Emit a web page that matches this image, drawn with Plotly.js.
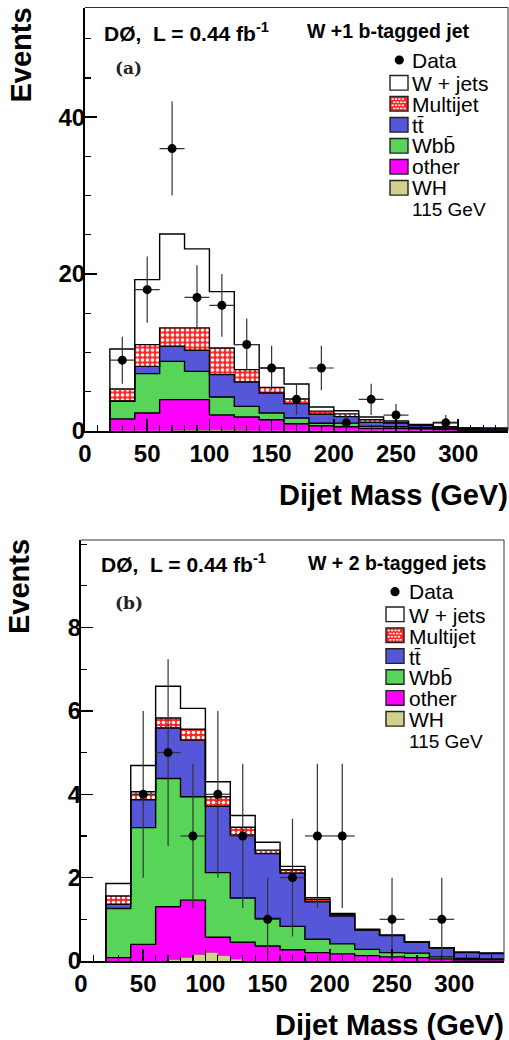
<!DOCTYPE html>
<html><head><meta charset="utf-8">
<script src="https://cdn.plot.ly/plotly-3.0.1.min.js"></script>
<style>html,body{margin:0;padding:0;background:#fff}#chart{width:509px;height:1040px}</style>
</head><body><div id="chart"></div>
<script>
// ---------------- DATA ----------------
const binEdges = [20,40,60,80,100,120,140,160,180,200,220,240,260,280,300,320,340];

// Panel (a): W + 1 b-tagged jet  (per-component contributions, stacked bottom->top)
const otherA = [1.49,2.26,3.96,3.96,2.0,1.75,1.4,0.89,0.64,0.5,0.3,0.3,0.25,0.15,0.05,0.04];
const wbbA   = [2.25,5.02,4.89,3.61,2.3,1.35,0.86,0.73,0.31,0.45,0.25,0.2,0.15,0.1,0.03,0.02];
const ttA    = [0.06,0.93,1.92,2.69,2.85,3.12,2.55,1.83,1.15,0.85,0.51,0.48,0.3,0.2,0.22,0.22];
const mjA    = [1.52,2.77,2.35,2.86,3.41,1.57,0.72,0.6,0.4,0.35,0.34,0.12,0.04,0.05,0.02,0.02];
const wjA    = [5.11,8.3,11.98,10.08,7.19,3.19,2.47,1.91,0.52,0.4,0.35,0.16,0.06,0.54,0.03,0.02];
const whXA   = [75,85,95,105,115,125];
const whA    = [0.02,0.05,0.08,0.1,0.06,0.02];
const dataXA = [30,50,70,90,110,130,150,170,190,210,230,250,290];
const dataYA = [9,18,36,17,16,11,8,4,8,1,4,2,1];
const dataEA = [3,4.24,6,4.12,4,3.32,2.83,2,2.83,1,2,1.41,1];

// Panel (b): W + 2 b-tagged jets
const otherB = [0.08,0.40,1.30,1.46,0.57,0.45,0.36,0.27,0.2,0.17,0.13,0.1,0.08,0.05,0.03,0.03];
const wbbB   = [1.18,2.8,3.08,2.48,1.55,1.06,0.66,0.56,0.32,0.24,0.15,0.1,0.11,0.05,0.03,0.02];
const ttB    = [0.1,0.67,1.21,1.36,1.59,1.51,1.56,1.28,0.9,0.67,0.46,0.41,0.26,0.21,0.14,0.13];
const mjB    = [0.2,0.19,0.24,0.26,0.23,0.19,0.08,0.08,0.06,0.04,0.01,0.01,0.01,0.01,0.01,0.01];
const wjB    = [0.3,0.63,0.76,0.5,0.36,0.28,0.19,0.08,0.04,0.02,0.01,0,0,0,0,0];
const whXB   = [75,85,95,105,115,125];
const whB    = [0.03,0.08,0.15,0.2,0.13,0.04];
const dataXB = [50,70,90,110,130,150,170,190,210,250,290];
const dataYB = [4,5,3,4,3,1,2,3,3,1,1];
const dataEB = [2,2.24,1.73,2,1.73,1,1.41,1.73,1.73,1,1];

const legendLabels = ['W + jets','Multijet','tt\u0304','Wbb\u0304','other','WH'];
const legendSub = '115 GeV';
const xTickLabels = ['0','50','100','150','200','250','300'];
const yTicksA = [0,20,40];
const yTicksB = [0,2,4,6,8];

// ---------------- STYLE ----------------
const C = {wj:'#ffffff', mj:'#ff2424', tt:'#5656d8', wbb:'#58d458', other:'#ff00ff', wh:'#d4cf8c'};
const SANS = 'Liberation Sans, Arial, Helvetica, sans-serif';
const W = 509, H = 1040;
const px = x => x / W, py = y => 1 - y / H;

const centers = binEdges.slice(0,-1).map((e,i)=> (e + binEdges[i+1]) / 2);
const widths  = binEdges.slice(0,-1).map((e,i)=> binEdges[i+1] - e);

function cumsum(list){
  const out = []; let acc = list[0].map(()=>0);
  list.forEach(a => { acc = acc.map((v,i)=> v + a[i]); out.push(acc.slice()); });
  return out;
}
function stepTrace(cum, xa, ya){
  const xs=[binEdges[0]], ys=[0];
  cum.forEach((v,i)=>{ xs.push(binEdges[i]); ys.push(v); });
  xs.push(binEdges[binEdges.length-1]); ys.push(cum[cum.length-1]);
  return {type:'scatter', mode:'lines', x:xs, y:ys, xaxis:xa, yaxis:ya,
          line:{shape:'hv', color:'#000', width:1.4}, hoverinfo:'skip', showlegend:false};
}
function panelTraces(comp, whX, wh, dX, dY, dE, xa, ya){
  const names = ['other','Wbb','tt','Multijet','W + jets'];
  const cols  = [C.other, C.wbb, C.tt, C.mj, C.wj];
  const tr = [];
  comp.forEach((arr,k)=>{
    const t = {type:'bar', x:centers, y:arr, width:widths, xaxis:xa, yaxis:ya, name:names[k],
      marker:{color:cols[k], line:{width:0.6, color:cols[k]}}, showlegend:false, hoverinfo:'skip'};
    if(k===3) t.marker.pattern = {shape:'.', bgcolor:C.mj, fgcolor:'#ffffff', fillmode:'replace', size:5, solidity:0.4};
    tr.push(t);
  });
  tr.push({type:'bar', x:whX, y:wh, width:whX.map(()=>10), xaxis:xa, yaxis:ya, name:'WH',
    marker:{color:C.wh, line:{width:0.6, color:'#8a8450'}}, showlegend:false, hoverinfo:'skip'});
  cumsum(comp).forEach(c => tr.push(stepTrace(c, xa, ya)));
  tr.push({type:'scatter', mode:'markers', x:dX, y:dY, xaxis:xa, yaxis:ya, name:'Data',
    marker:{color:'#000', size:9},
    error_y:{type:'data', array:dE, color:'#333', thickness:1.2, width:0},
    error_x:{type:'constant', value:10, color:'#333', thickness:1.2, width:0},
    showlegend:false, hoverinfo:'skip'});
  return tr;
}

const traces = [
  ...panelTraces([otherA,wbbA,ttA,mjA,wjA], whXA, whA, dataXA, dataYA, dataEA, 'x', 'y'),
  ...panelTraces([otherB,wbbB,ttB,mjB,wjB], whXB, whB, dataXB, dataYB, dataEB, 'x2', 'y2')
];

function xAxis(domain, anchor){
  return {domain, anchor, range:[0,340], showgrid:false, zeroline:false,
    showline:true, linecolor:'#000', linewidth:2,
    tickmode:'array', tickvals:xTickLabels.map(Number), ticktext:xTickLabels,
    ticks:'inside', ticklen:12, tickwidth:1.5, tickcolor:'#000', ticklabelstandoff:0,
    minor:{dtick:10, ticks:'inside', ticklen:6, tickwidth:1.2, tickcolor:'#000'},
    tickfont:{family:SANS, size:24, weight:'bold', color:'#000'}};
}
function yAxis(domain, anchor, range, tv, mdt){
  return {domain, anchor, range, showgrid:false, zeroline:false,
    showline:true, linecolor:'#000', linewidth:2, tickmode:'array', tickvals:tv,
    ticks:'inside', ticklen:12, tickwidth:1.5, tickcolor:'#000', ticklabelstandoff:-7,
    minor:{dtick:mdt, tick0:0, ticks:'inside', ticklen:6, tickwidth:1.2, tickcolor:'#000'},
    tickfont:{family:SANS, size:24, weight:'bold', color:'#000'}};
}

const annotations = [], shapes = [];
function ann(text, x, y, o){
  annotations.push(Object.assign({text, x:px(x), y:py(y), xref:'paper', yref:'paper',
    showarrow:false, xanchor:'left', yanchor:'middle', borderpad:0,
    font:{family:SANS, size:20, color:'#000'}}, o||{}));
}
function rect(x0,y0,x1,y1,fill,lc,lw){
  shapes.push({type:'rect', xref:'paper', yref:'paper', x0:px(x0), x1:px(x1), y0:py(y1), y1:py(y0),
    fillcolor:fill, line:{color:lc||fill, width:lw===undefined?0:lw}, layer:'above'});
}

function panelDecor(P){
  ann('Events', P.evX, P.evY, {textangle:-90, xanchor:'center', font:{family:SANS, size:29, weight:'bold', color:'#000'}});
  ann('Dijet Mass (GeV)', P.dmX, P.dmY, {xanchor:'right', font:{family:SANS, size:29, weight:'bold', color:'#000'}});
  ann('D\u00D8,  L = 0.44 fb<sup>-1</sup>', P.d0X, P.d0Y, {font:{family:SANS, size:21, weight:'bold', color:'#000'}});
  ann(P.sel, P.selX, P.selY, {font:{family:SANS, size:19.5, weight:'bold', color:'#000'}});
  ann(P.tag, P.tagX, P.tagY, {xanchor:'center', font:{family:'DejaVu Serif, Liberation Serif, serif', size:17, weight:'bold', color:'#222'}});
  // legend
  const r = 4.6;
  shapes.push({type:'circle', xref:'paper', yref:'paper', x0:px(P.dotX-r), x1:px(P.dotX+r),
    y0:py(P.dotY+r), y1:py(P.dotY-r), fillcolor:'#000', line:{width:0}, layer:'above'});
  ann('Data', P.txtX, P.dotY, {font:{family:SANS, size:21, color:'#000'}});
  const fills = [C.wj, C.mj, C.tt, C.wbb, C.other, C.wh];
  legendLabels.forEach((lab,i)=>{
    const y0 = P.boxY0 + i*P.pitch, y1 = y0 + 14.6;
    rect(P.boxX0, y0, P.boxX1, y1, fills[i], '#222', 1.4);
    if(i===1){
      for(let rr=0; rr<4; rr++){
        for(let cc=0; cc<5; cc++){
          const bx = P.boxX0 + 1.6 + cc*3.4 + (rr%2)*1.7, by = y0 + 1.8 + rr*3.1;
          if(bx+2.2 < P.boxX1-0.8) rect(bx, by, bx+2.2, by+1.6, '#ffffff');
        }
      }
    }
  });
  const block = legendLabels.map(l => '<span style="font-size:21px">'+l+'</span>')
      .concat(['<span style="font-size:19px">'+legendSub+'</span>']).join('<br>');
  ann(block, P.txtX, P.blockTop, {yanchor:'top', align:'left', font:{family:SANS, size:16, color:'#000'}});
  shapes.push({type:'line', xref:P.xa+' domain', yref:P.ya+' domain', x0:0, x1:1, y0:1, y1:1, line:{color:'#333', width:1}});
  shapes.push({type:'line', xref:P.xa+' domain', yref:P.ya+' domain', x0:1, x1:1, y0:0, y1:1, line:{color:'#333', width:1}});
}

panelDecor({xa:'x', ya:'y', evX:20.5, evY:55, dmX:509, dmY:495, d0X:103, d0Y:32, sel:'W +1 b-tagged jet', selX:306, selY:31,
  tag:'(a)', tagX:128.5, tagY:68, dotX:399.3, dotY:60, txtX:411, boxX0:390, boxX1:408, boxY0:75.5, pitch:21, blockTop:71});
panelDecor({xa:'x2', ya:'y2', evX:18.5, evY:586.5, dmX:505, dmY:1025, d0X:100, d0Y:563, sel:'W + 2 b-tagged jets', selX:306.5, selY:562.7,
  tag:'(b)', tagX:129, tagY:603, dotX:395, dotY:591.7, txtX:407.5, boxX0:386, boxX1:404, boxY0:607, pitch:20.9, blockTop:602.5});

const layout = {
  width:W, height:H, margin:{l:0,r:0,t:0,b:0}, paper_bgcolor:'#fff', plot_bgcolor:'#fff',
  barmode:'stack', bargap:0, showlegend:false,
  xaxis: xAxis([85/W, 508/W], 'y'),
  yaxis: yAxis([1-430.7/H, 1-7.5/H], 'x', [0,54], yTicksA, 5),
  xaxis2: xAxis([81/W, 504/W], 'y2'),
  yaxis2: yAxis([1-961/H, 1-540/H], 'x2', [0,10.1], yTicksB, 1),
  annotations, shapes
};
Plotly.newPlot('chart', traces, layout, {staticPlot:true, displayModeBar:false});
</script></body></html>
